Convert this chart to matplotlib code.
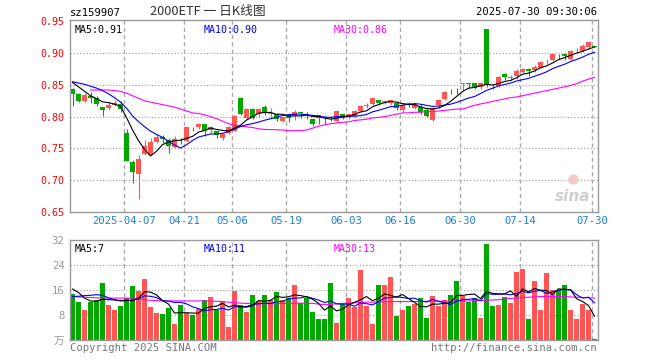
import numpy as np
import pandas as pd
import matplotlib
matplotlib.use('Agg')
import matplotlib.pyplot as plt

plt.rcParams['font.family'] = ['DejaVu Sans Mono', 'Noto Sans CJK SC']

# trading days shown (Mar 24 .. Jul 30, minus exchange holidays)
holidays = ['2025-04-04', '2025-05-01', '2025-05-02', '2025-05-05', '2025-06-02']
days = pd.bdate_range('2025-03-24', '2025-07-30')
days = days[~days.isin(pd.to_datetime(holidays))]

opens = [.8437, .836, .824, .832, .830, .815, .813, .818, .820, .774,
         .728, .710, .741, .740, .760, .768, .764, .752, .764, .762,
         .781, .783, .7885, .779, .778, .767, .774, .7775, .830, .7974,
         .8115, .804, .8146, .805, .805, .793, .8026, .8016, .8068, .803,
         .797, .8026, .7965, .798, .7937, .8037, .799, .8016, .809, .8175,
         .820, .826, .823, .821, .822, .8098, .818, .814, .816, .810,
         .7943, .8177, .828, .8405, .8405, .852, .853, .8536, .846, .938,
         .8485, .849, .867, .861, .864, .870, .8755, .873, .877, .887,
         .8885, .899, .899, .891, .9045, .904, .9095, .911]
highs = [.845, .838, .837, .839, .833, .816, .823, .826, .825, .780,
         .732, .739, .763, .766, .772, .771, .767, .769, .767, .784,
         .784, .790, .789, .785, .778, .775, .785, .8025, .831, .814,
         .813, .813, .818, .813, .806, .800, .803, .811, .808, .808,
         .798, .8026, .800, .801, .810, .8042, .805, .810, .818, .822,
         .831, .827, .827, .827, .8245, .8205, .8225, .821, .820, .813,
         .816, .8285, .841, .844, .845, .853, .853, .8536, .855, .938,
         .851, .8645, .8685, .8655, .8755, .8765, .877, .882, .887, .891,
         .899, .899, .900, .9055, .908, .914, .918, .912]
lows = [.817, .823, .823, .821, .817, .801, .811, .817, .807, .730,
        .696, .670, .740, .740, .759, .759, .743, .750, .757, .760,
        .777, .781, .770, .774, .766, .7635, .772, .777, .8026, .796,
        .796, .800, .8026, .798, .794, .792, .792, .795, .798, .796,
        .786, .788, .788, .794, .792, .796, .797, .800, .807, .8135,
        .8185, .8185, .8195, .8185, .811, .807, .8145, .812, .804, .800,
        .7933, .814, .8265, .836, .836, .8425, .845, .8438, .844, .8475,
        .8435, .8475, .858, .8575, .860, .868, .864, .871, .876, .8825,
        .887, .891, .889, .889, .8995, .9015, .9065, .910]
closes = [.835, .824, .834, .829, .820, .810, .818, .822, .812, .731,
          .713, .733, .754, .760, .768, .765, .754, .765, .763, .783,
          .780, .788, .7775, .783, .771, .773, .783, .801, .805, .8115,
          .7984, .812, .8063, .806, .796, .799, .7974, .808, .806, .8025,
          .788, .7974, .7958, .7975, .809, .7984, .804, .809, .8167, .8185,
          .830, .822, .824, .826, .813, .8177, .8177, .820, .808, .801,
          .814, .8255, .8396, .840, .840, .853, .852, .8453, .8536, .8505,
          .848, .863, .862, .8614, .872, .8755, .872, .879, .886, .8875,
          .898, .8985, .895, .904, .905, .912, .917, .910]

ma5 = [.854, .847, .840, .833, .8284, .8234, .8222, .8198, .8164, .7986,
       .7792, .7622, .7486, .7382, .7456, .756, .7602, .7624, .763, .766,
       .769, .7758, .7783, .7823, .7799, .7785, .7775, .7822, .7866, .7947,
       .7998, .8056, .8066, .8068, .8037, .8039, .8009, .8013, .8013, .8026,
       .8004, .8004, .7979, .7962, .7975, .7996, .8009, .8036, .8074, .8093,
       .8156, .8192, .8222, .8241, .823, .8205, .8197, .8189, .8153, .8129,
       .8121, .8137, .8176, .824, .8318, .8396, .8449, .8461, .8488, .8509,
       .8499, .8521, .8554, .857, .8613, .8668, .8686, .872, .8769, .880,
       .8845, .8898, .893, .8966, .9001, .9029, .9066, .9096]
ma10 = [.855, .853, .851, .848, .845, .841, .836, .830, .823, .8135,
        .8013, .7922, .7842, .7773, .7721, .7676, .7612, .7555, .7506, .7558,
        .7625, .768, .7704, .7727, .773, .7738, .7767, .7803, .7845, .7873,
        .7891, .7915, .7944, .7967, .7992, .8018, .8033, .804, .8041, .8032,
        .8021, .8007, .7996, .7988, .8001, .800, .8007, .8008, .8018, .8034,
        .8076, .8101, .8129, .8158, .8162, .8181, .8195, .8206, .8197, .8179,
        .8163, .8167, .8183, .8197, .8224, .8259, .8293, .8318, .8364, .8414,
        .8448, .8485, .8507, .8529, .8561, .8583, .8603, .8637, .8669, .8706,
        .8756, .8792, .8825, .8868, .8901, .8937, .8982, .9013]
ma30 = [np.nan, np.nan, np.nan, .842, .842, .842, .842, .841, .840, .837,
        .833, .829, .825, .823, .821, .819, .817, .815, .812, .809,
        .806, .805, .803, .800, .797, .793, .789, .786, .785, .784,
        .783, .781, .780, .7797, .7795, .779, .778, .778, .778, .779,
        .782, .785, .787, .789, .790, .791, .792, .794, .795, .796,
        .798, .799, .800, .802, .804, .806, .806, .807, .807, .808,
        .808, .809, .810, .811, .812, .812, .815, .818, .820, .822,
        .824, .826, .828, .830, .831, .833, .835, .837, .839, .841,
        .843, .845, .847, .849, .852, .856, .859, .862]

volume = [14.8, 12.3, 9.7, 12.3, 12.65, 18.4, 11.3, 9.7, 10.9, 13.4,
          17.3, 15.8, 19.6, 10.6, 8.8, 8.4, 10.1, 5.2, 11.3, 8.6,
          7.9, 9.9, 12.9, 13.8, 9.7, 12.3, 4.25, 15.7, 11.3, 9.1,
          14.5, 12.5, 14.5, 12.9, 15.4, 12.9, 13.4, 17.6, 11.8, 13.4,
          9.1, 6.7, 6.8, 18.4, 5.6, 12.0, 13.6, 10.7, 22.4, 10.9,
          5.2, 17.6, 17.6, 20.2, 7.8, 9.7, 10.9, 11.6, 13.6, 7.2,
          14.1, 10.9, 12.9, 14.5, 18.9, 14.2, 12.3, 13.6, 7.2, 30.7,
          10.9, 11.3, 13.7, 12.0, 21.9, 22.7, 6.8, 18.9, 9.5, 21.3,
          16.1, 16.1, 17.6, 9.5, 6.8, 11.6, 9.7, 0.4]
vma5 = [16.3, 15.2, 13.4, 12.5, 12.35, 13.07, 12.87, 12.87, 12.59, 12.74,
        12.52, 13.42, 15.4, 15.34, 14.42, 12.64, 11.5, 8.62, 8.76, 8.72,
        8.62, 8.58, 10.12, 10.62, 10.84, 11.72, 10.59, 11.15, 10.65, 10.53,
        10.97, 12.62, 12.38, 12.7, 13.96, 13.64, 13.82, 14.44, 14.22, 13.82,
        13.06, 11.72, 9.56, 10.88, 9.32, 9.9, 11.28, 12.06, 12.86, 13.92,
        12.56, 13.36, 14.74, 14.3, 13.68, 14.58, 13.24, 12.04, 10.72, 10.6,
        11.48, 11.48, 11.74, 11.92, 14.26, 14.28, 14.56, 14.7, 13.24, 15.6,
        14.94, 14.74, 14.76, 15.72, 13.96, 16.32, 15.42, 16.46, 15.96, 15.84,
        14.52, 16.38, 16.12, 16.12, 13.22, 12.32, 11.04, 7.6]
vma10 = [13.9, 14.0, 14.2, 14.3, 14.5, 14.3, 13.5, 12.8, 12.5, 12.55,
         12.8, 13.15, 14.14, 13.97, 13.58, 12.58, 12.46, 12.01, 12.05, 11.57,
         10.63, 10.04, 9.37, 9.69, 9.78, 10.17, 9.59, 10.64, 10.64, 10.69,
         11.35, 11.61, 11.77, 11.68, 12.25, 12.31, 13.22, 13.41, 13.46, 13.89,
         13.35, 12.77, 12.0, 12.55, 11.57, 11.48, 11.5, 10.81, 11.87, 11.62,
         11.23, 12.32, 13.4, 13.58, 13.8, 13.57, 13.3, 13.39, 12.51, 12.14,
         13.03, 12.36, 11.89, 11.32, 12.43, 12.88, 13.02, 13.22, 12.58, 14.93,
         14.61, 14.65, 14.73, 14.48, 14.78, 15.63, 15.08, 15.61, 15.84, 14.9,
         15.42, 15.9, 16.29, 16.04, 14.53, 13.42, 13.71, 11.86]
vma30 = [13.9, 13.8, 13.7, 13.6, 13.5, 13.4, 13.4, 13.4, 13.4, 13.4,
         13.4, 13.2, 12.9, 12.7, 12.6, 12.5, 12.5, 12.5, 12.5, 12.5,
         12.5, 12.5, 12.5, 12.4, 12.4, 12.3, 12.1, 11.9, 11.8, 11.7,
         11.7, 11.6, 11.6, 11.6, 11.6, 11.7, 11.7, 11.8, 11.8, 11.8,
         11.7, 11.5, 11.3, 11.4, 11.6, 11.7, 11.8, 11.9, 12.0, 12.1,
         12.1, 12.2, 12.2, 12.3, 12.3, 12.3, 12.3, 12.3, 12.3, 12.4,
         12.4, 12.4, 12.4, 12.5, 12.5, 12.5, 12.5, 12.6, 12.6, 12.7,
         12.8, 12.9, 13.1, 13.3, 13.4, 13.6, 13.7, 13.8, 13.9, 13.9,
         13.9, 13.9, 13.9, 13.8, 13.7, 13.6, 13.5, 13.4]

tick_dates = ['2025-04-07', '2025-04-21', '2025-05-06', '2025-05-19', '2025-06-03',
              '2025-06-16', '2025-06-30', '2025-07-14', '2025-07-30']
tick_text = ['2025-04-07', '04-21', '05-06', '05-19', '06-03', '06-16', '06-30', '07-14', '07-30']
price_ticks = [0.65, 0.70, 0.75, 0.80, 0.85, 0.90, 0.95]
vol_ticks = [8, 16, 24, 32]

RED = '#ff5555'
GREEN = '#00a800'
GRID = '#aaaaaa'
FRAME = '#999999'
LW = 0.8

o = np.array(opens); h = np.array(highs); l = np.array(lows); c = np.array(closes)
n = len(c)
x = np.arange(n) + 0.42
cols = np.where(c >= o, RED, GREEN)
tick_idx = [int(np.where(days == pd.Timestamp(d))[0][0]) for d in tick_dates]

W, H = 660, 360
fig = plt.figure(figsize=(6.6, 3.6), dpi=100)
def fx(px):
    return px / W
def fy(py):
    return 1 - py / H

ax = fig.add_axes([fx(70), fy(212), 528 / W, 192 / H])
vax = fig.add_axes([fx(70), fy(340), 528 / W, 100 / H])

for a in (ax, vax):
    a.set_xlim(0, n)
    for s in a.spines.values():
        s.set_color(FRAME)
        s.set_linewidth(1)
    for t in tick_idx:
        a.axvline(t, color=GRID, lw=1, ls=(0, (3, 2.2)), zorder=0)
    a.tick_params(length=0)

# price panel
for v in price_ticks[1:-1]:
    ax.axhline(v, color=GRID, lw=0.9, ls=(0, (1, 1.6)), zorder=0)
ax.vlines(x, l, h, colors=cols, lw=LW, zorder=2)
ax.bar(x, np.maximum(np.abs(c - o), 0.0008), bottom=np.minimum(o, c), width=0.83,
       color=cols, linewidth=0, zorder=2)
ax.plot(x, ma30, color='#ff00ff', lw=LW, zorder=3)
ax.plot(x, ma10, color='#0000ff', lw=LW, zorder=3)
ax.plot(x, ma5, color='black', lw=LW, zorder=3)
ax.set_ylim(0.65, 0.9522)
ax.set_yticks(price_ticks)
ax.set_yticklabels(['%.2f' % v for v in price_ticks], color='#ff0000', fontsize=7.2)
ax.set_xticks(tick_idx)
ax.set_xticklabels(tick_text, color='#1e7fd8', fontsize=7.6)
ax.tick_params(axis='y', pad=4)
ax.tick_params(axis='x', pad=3)

ax.text(0.008, 0.975, 'MA5:%.2f' % ma5[-1], transform=ax.transAxes, va='top', fontsize=7.2, color='black')
ax.text(0.254, 0.975, 'MA10:%.2f' % ma10[-1], transform=ax.transAxes, va='top', fontsize=7.2, color='#0000ff')
ax.text(0.5, 0.975, 'MA30:%.2f' % ma30[-1], transform=ax.transAxes, va='top', fontsize=7.2, color='#ff00ff')

# sina watermark
ax.text(0.985, 0.04, 'sina', transform=ax.transAxes, ha='right', va='bottom',
        fontsize=11, fontweight='bold', style='italic', color='#cfcfcf', family='DejaVu Sans')
ax.scatter([0.952], [0.17], s=40, transform=ax.transAxes, color='#f6c8c8', zorder=1)

# volume panel
for v in vol_ticks[:-1]:
    vax.axhline(v, color=GRID, lw=0.9, ls=(0, (1, 1.6)), zorder=0)
vax.bar(x, volume, width=0.83, color=cols, linewidth=0, zorder=2)
vax.plot(x, vma30, color='#ff00ff', lw=LW, zorder=3)
vax.plot(x, vma10, color='#0000ff', lw=LW, zorder=3)
vax.plot(x, vma5, color='black', lw=LW, zorder=3)
vax.set_ylim(0, 32)
vax.set_yticks([0] + vol_ticks)
vax.set_yticklabels(['万'] + [str(v) for v in vol_ticks], color='#999999', fontsize=7.6)
vax.tick_params(axis='y', pad=4)
vax.set_xticks([])
vax.text(0.008, 0.96, 'MA5:%d' % int(vma5[-1]), transform=vax.transAxes, va='top', fontsize=7.2, color='black')
vax.text(0.254, 0.96, 'MA10:%d' % int(vma10[-1]), transform=vax.transAxes, va='top', fontsize=7.2, color='#0000ff')
vax.text(0.5, 0.96, 'MA30:%d' % int(vma30[-1]), transform=vax.transAxes, va='top', fontsize=7.2, color='#ff00ff')

# header / footer
fig.text(fx(70), fy(13), 'sz159907', fontsize=7.6, va='center', color='black')
fig.text(fx(150), fy(12), '2000ETF 一 日K线图', fontsize=9.2, va='center', color='#333333',
         family=['Noto Sans CJK SC', 'DejaVu Sans'])
fig.text(fx(597), fy(12), '2025-07-30 09:30:06', fontsize=7.6, va='center', ha='right', color='black')
fig.text(fx(70), fy(348), 'Copyright 2025 SINA.COM', fontsize=7.6, va='center', color='#777777')
fig.text(fx(597), fy(348), 'http://finance.sina.com.cn', fontsize=7.6, va='center', ha='right', color='#777777')

fig.savefig('out.png', dpi=100)
